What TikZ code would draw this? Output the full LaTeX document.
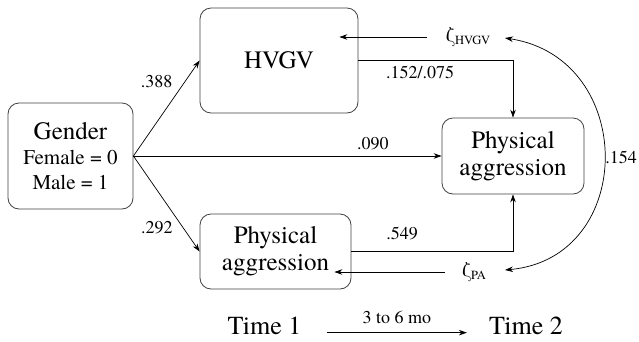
\documentclass[tikz,border=0pt]{standalone}
\usepackage{fontspec}
\setmainfont{texgyretermes-regular.otf}
\usetikzlibrary{arrows.meta}
\begin{document}
\begin{tikzpicture}[x=1pt,y=-1pt,
  box/.style={draw=black!75, line width=0.8pt, rounded corners=11pt, align=center, inner sep=0pt},
  conn/.style={line width=0.7pt, -{Stealth[length=8pt,width=5.5pt]}},
  lbl/.style={font=\fontsize{18}{18}\selectfont, inner sep=1pt},
  big/.style={font=\fontsize{25}{27}\selectfont},
  tlbl/.style={font=\fontsize{26}{26}\selectfont, inner sep=0pt}
]
\useasboundingbox (0,0) rectangle (639,341);
% boxes
\node[box, minimum width=125pt, minimum height=106pt, font=\fontsize{21}{25}\selectfont] (G) at (70.5,156)
  {{\fontsize{25}{26}\selectfont Gender}\\Female = 0\\Male = 1};
\node[box, big, minimum width=158pt, minimum height=105pt] (H) at (279,60.5) {HVGV};
\node[box, big, minimum width=142pt, minimum height=76pt] (P2) at (513,156) {Physical\\aggression};
\node[box, big, minimum width=151pt, minimum height=75pt] (P1) at (275.5,251.5) {Physical\\aggression};
% disturbances
\node[inner sep=0pt] (zH) at (468,37) {{\fontsize{21}{21}\selectfont ζ}\raisebox{-3pt}{\fontsize{12.5}{12.5}\selectfont HVGV}};
\node[inner sep=0pt] (zP) at (474,272) {{\fontsize{21}{21}\selectfont ζ}\raisebox{-3pt}{\fontsize{12.5}{12.5}\selectfont PA}};
\coordinate (cH) at (505,38);
\coordinate (cP) at (505,270);
% time labels
\node[tlbl] (T1) at (264.5,326) {Time 1};
\node[tlbl] (T2) at (526,326) {Time 2};
% connectors
\draw[conn] (G.east) -- node[lbl, pos=0.775, left=11pt] {.388} (H.west);
\draw[conn] (G.east) -- node[lbl, pos=0.749, left=9pt] {.292} (P1.west);
\draw[conn] (G.east) -- node[lbl, pos=0.777, above=5pt] {.090} (P2.west);
\draw[conn] (H.east) -| node[lbl, pos=0.2, below=4pt] {.152/.075} (P2.north);
\draw[conn] (P1.east) -| node[lbl, pos=0.157, above=10pt] {.549} (P2.south);
\draw[conn] ([xshift=-19pt]zH.west) -- ([xshift=-19pt]zH.west -| H.east);
\draw[conn] ([xshift=-17pt]zP.west) -- ([xshift=-17pt]zP.west -| P1.east);
\draw[line width=0.7pt, {Stealth[length=8pt,width=5.5pt]}-{Stealth[length=8pt,width=5.5pt]}]
  (cH) .. controls +(132,20) and +(132,-12) .. node[lbl, pos=0.5, anchor=west] {.154} (cP);
\draw[conn] ([xshift=25pt,yshift=2pt]T1.base east) -- node[lbl, above=8pt] {3 to 6 mo} ([xshift=-22pt,yshift=2pt]T2.base west);
\end{tikzpicture}
\end{document}
